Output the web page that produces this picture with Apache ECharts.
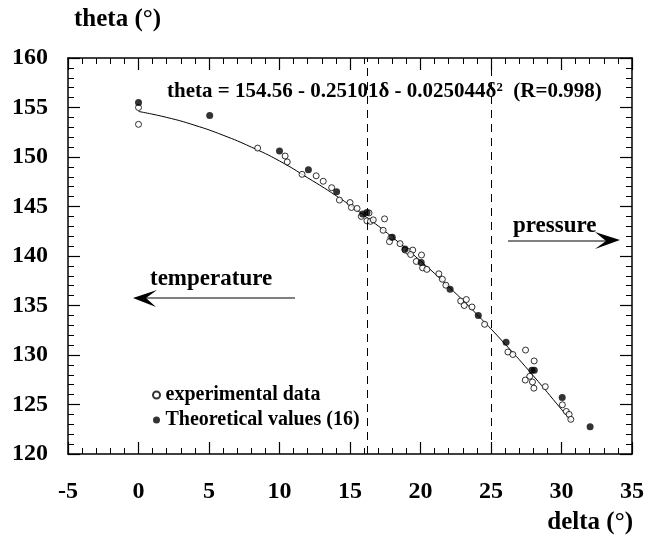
<!DOCTYPE html>
<html>
<head>
<meta charset="utf-8">
<script src="https://cdn.jsdelivr.net/npm/echarts@6/dist/echarts.min.js"></script>
<style>html,body{margin:0;padding:0;background:#fff}#c{width:647px;height:537px}</style>
</head>
<body>
<div id="c"></div>
<script>
// ---- data ----
const experimental = [
  [0, 155.0], [0, 153.3], [8.45, 150.9], [10.4, 150.1], [10.55, 149.5], [11.6, 148.25],
  [12.6, 148.1], [13.1, 147.55], [13.7, 146.9], [14.25, 145.65], [15.0, 145.4], [15.1, 144.9],
  [15.5, 144.8], [15.8, 144.0], [16.35, 144.35], [16.2, 143.55], [16.45, 143.5], [16.65, 143.65],
  [17.45, 143.75], [17.35, 142.6], [17.9, 141.85], [17.8, 141.45], [18.55, 141.25], [18.9, 140.6],
  [19.15, 140.45], [19.45, 140.6], [19.3, 140.15], [20.07, 140.1], [19.7, 139.45], [20.15, 138.8],
  [20.45, 138.65], [21.3, 138.2], [21.55, 137.65], [21.8, 137.05], [22.85, 135.45], [23.25, 135.6],
  [23.1, 135.0], [23.65, 134.85], [24.55, 133.1], [26.2, 130.3], [26.55, 130.05], [27.45, 130.5],
  [28.06, 129.4], [27.75, 127.85], [27.43, 127.47], [27.94, 127.27], [28.04, 126.65], [28.85, 126.8],
  [30.06, 124.97], [30.34, 124.3], [30.54, 124.0], [30.66, 123.5]
];
const theoretical = [
  [0, 155.5], [5.05, 154.2], [10.0, 150.6], [12.05, 148.7], [14.05, 146.5], [15.9, 144.25],
  [16.2, 144.4], [18.0, 141.9], [18.9, 140.7], [20.05, 139.35], [22.1, 136.65], [24.1, 134.0],
  [26.07, 131.3], [27.9, 128.45], [28.07, 128.45], [30.05, 125.7], [32.03, 122.75]
];
const fitDelta = [0, 2, 4, 6, 8, 10, 12, 14, 16, 18, 20, 22, 24, 26, 28, 30, 30.7];
const fitTheta = [154.6, 154.0, 153.2, 152.2, 151.0, 149.6, 147.9, 146.1, 144.1, 141.9, 139.5, 136.9, 134.1, 131.1, 127.9, 124.5, 123.3];
const dashedX = [16.2, 25];
const xTicks = { min: -5, max: 35, interval: 5 };
const yTicks = { min: 120, max: 160, interval: 5 };
const seriesNames = ['experimental data', 'Theoretical values (16)'];
const equationText = 'theta = 154.56 - 0.25101\u03b4 - 0.025044\u03b4\u00b2  (R=0.998)';

const FONT = '"Liberation Serif", "Times New Roman", serif';
const chart = echarts.init(document.getElementById('c'), null, { renderer: 'canvas' });

function xAxisDef(pos, showLabel) {
  return {
    type: 'value', position: pos, min: xTicks.min, max: xTicks.max, interval: xTicks.interval,
    axisLine: { show: true, onZero: false, lineStyle: { color: '#000', width: 1.5 } },
    axisTick: { show: true, inside: true, length: 12, lineStyle: { color: '#000', width: 1.2 } },
    minorTick: { show: true, splitNumber: 5, length: 6, lineStyle: { color: '#000', width: 1 } },
    splitLine: { show: false },
    axisLabel: { show: showLabel, margin: 26, fontSize: 24, color: '#000', fontFamily: FONT, fontWeight: 'bold' }
  };
}
function yAxisDef(pos, showLabel) {
  return {
    type: 'value', position: pos, min: yTicks.min, max: yTicks.max, interval: yTicks.interval,
    axisLine: { show: true, onZero: false, lineStyle: { color: '#000', width: 1.5 } },
    axisTick: { show: true, inside: true, length: 12, lineStyle: { color: '#000', width: 1.2 } },
    minorTick: { show: true, splitNumber: 5, length: 6, lineStyle: { color: '#000', width: 1 } },
    splitLine: { show: false },
    axisLabel: { show: showLabel, margin: 20, fontSize: 24, color: '#000', fontFamily: FONT, fontWeight: 'bold' }
  };
}

const option = {
  animation: false,
  backgroundColor: '#fff',
  grid: { left: 68, right: 14, top: 58, bottom: 83 },
  xAxis: [xAxisDef('bottom', true), xAxisDef('top', false)],
  yAxis: [yAxisDef('left', true), yAxisDef('right', false)],
  legend: {
    data: seriesNames, orient: 'vertical', left: 152, top: 385, padding: 0,
    itemWidth: 8, itemHeight: 7, itemGap: 5,
    textStyle: { fontFamily: FONT, fontWeight: 'bold', fontSize: 20, color: '#000', lineHeight: 20 },
    selectedMode: false
  },
  series: [
    {
      name: 'fit', type: 'line', xAxisIndex: 0, yAxisIndex: 0,
      data: fitDelta.map((d, i) => [d, fitTheta[i]]),
      smooth: true, showSymbol: false, symbol: 'none',
      lineStyle: { color: '#000', width: 1 }, z: 2,
      markLine: {
        silent: true, symbol: 'none', label: { show: false },
        lineStyle: { color: '#000', width: 1, type: [8, 6] },
        data: dashedX.map(x => ({ xAxis: x }))
      }
    },
    {
      name: seriesNames[0], type: 'scatter', xAxisIndex: 0, yAxisIndex: 0,
      data: experimental, symbol: 'circle', symbolSize: 6,
      itemStyle: { color: '#fff', borderColor: '#000', borderWidth: 1 }, z: 3
    },
    {
      name: seriesNames[1], type: 'scatter', xAxisIndex: 0, yAxisIndex: 0,
      data: theoretical, symbol: 'circle', symbolSize: 7,
      itemStyle: { color: '#000' }, z: 4
    }
  ],
  graphic: [
    { type: 'text', x: 74, y: 20, style: { text: 'theta (\u00b0)', font: 'bold 25px ' + FONT, fill: '#000', align: 'left', verticalAlign: 'middle' } },
    { type: 'text', x: 633, y: 523, style: { text: 'delta (\u00b0)', font: 'bold 25px ' + FONT, fill: '#000', align: 'right', verticalAlign: 'middle' } },
    { type: 'text', x: 167, y: 92, z: 10, style: { text: equationText, font: 'bold 21px ' + FONT, fill: '#000', align: 'left', verticalAlign: 'middle' } },
    { type: 'text', x: 150, y: 279, style: { text: 'temperature', font: 'bold 23px ' + FONT, fill: '#000', align: 'left', verticalAlign: 'middle' } },
    { type: 'text', x: 513, y: 226, style: { text: 'pressure', font: 'bold 23px ' + FONT, fill: '#000', align: 'left', verticalAlign: 'middle' } },
    { type: 'polyline', shape: { points: [[295, 298], [145, 298]] }, style: { stroke: '#000', lineWidth: 1 } },
    { type: 'polygon', shape: { points: [[133, 298], [157, 290], [146, 298], [156, 307]] }, style: { fill: '#000' } },
    { type: 'polyline', shape: { points: [[508, 241], [606, 241]] }, style: { stroke: '#000', lineWidth: 1 } },
    { type: 'polygon', shape: { points: [[620, 240], [595, 232], [606, 241], [595, 249]] }, style: { fill: '#000' } }
  ]
};
chart.setOption(option);
</script>
</body>
</html>
